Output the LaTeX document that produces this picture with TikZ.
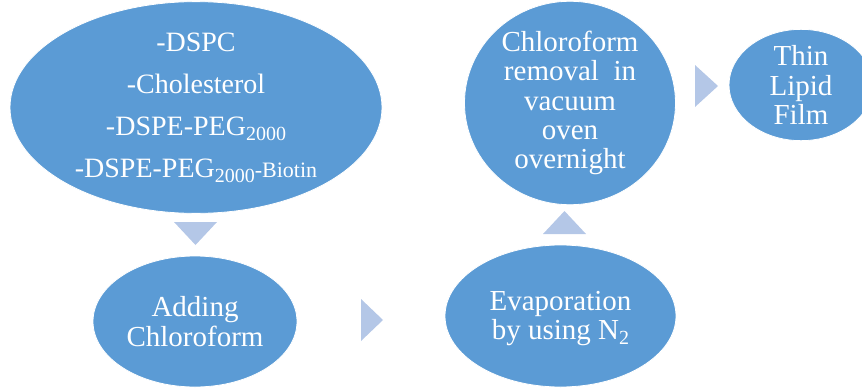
\documentclass[tikz,border=0pt]{standalone}
\usepackage{fontspec}
\setmainfont{Liberation Serif}
\usetikzlibrary{shapes.geometric}
\definecolor{ellblue}{HTML}{5B9BD5}
\definecolor{trilight}{HTML}{B4C7E7}
\newcommand{\subn}[1]{{\fontsize{20}{20}\selectfont\raisebox{-5pt}{#1}}}
\begin{document}
\begin{tikzpicture}[x=1pt,y=-1pt,
  stepell/.style={ellipse, fill=ellblue, draw=white, line width=0.8pt, inner sep=0pt,
    text=white, align=center, font=\fontsize{29}{29.3}\selectfont},
  tri/.style={fill=trilight}]
\useasboundingbox (0,0) rectangle (862,388);
\node[stepell, minimum width=372pt, minimum height=205pt, font=\fontsize{28}{42}\selectfont] (lipids) at (196,107.5)
  {-DSPC\\-Cholesterol\\-DSPE-PEG\subn{2000}\\-DSPE-PEG\subn{2000}{\fontsize{22}{22}\selectfont-Biotin}};
\node[stepell, minimum width=204pt, minimum height=131pt] (adding) at (195,321.5) {Adding\\Chloroform};
\node[stepell, minimum width=231pt, minimum height=142pt] (evap) at (560.5,316) {};
\node[white, align=center, inner sep=0pt, font=\fontsize{29}{29.3}\selectfont] (evaptext) at (560.5,318.5) {Evaporation\\by using N\subn{2}};
\node[stepell, minimum width=211pt, minimum height=194pt] (removal) at (570,103) {Chloroform\\removal\ \ in\\vacuum\\oven\\overnight};
\node[stepell, minimum width=144pt, minimum height=100pt] (film) at (801,85) {Thin\\Lipid\\Film};
\fill[tri] (174,222) -- (217,222) -- (195.5,245) -- cycle;
\fill[tri] (361,299) -- (383,320) -- (361,341) -- cycle;
\fill[tri] (543,234) -- (586,234) -- (564.5,211) -- cycle;
\fill[tri] (695,65) -- (718,86) -- (695,107) -- cycle;
\end{tikzpicture}
\end{document}
